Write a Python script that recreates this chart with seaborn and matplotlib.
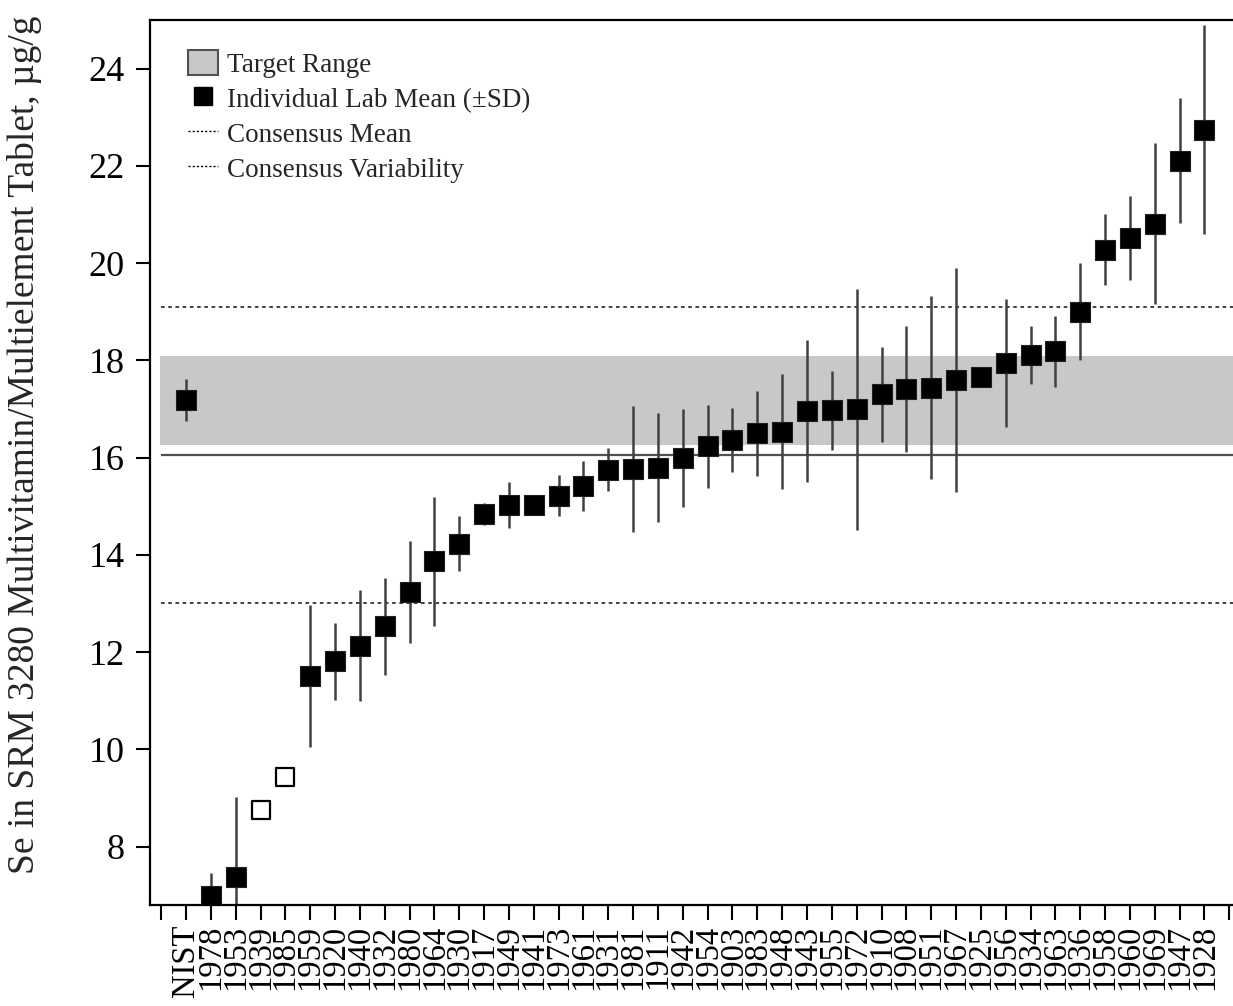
import numpy as np
import pandas as pd
import matplotlib
matplotlib.use("Agg")
import matplotlib.pyplot as plt
import seaborn as sns
from matplotlib.patches import Patch
from matplotlib.lines import Line2D

# ---------------- data ----------------
labs = ["NIST", "1978", "1953", "1939", "1985", "1959", "1920", "1940", "1932",
        "1980", "1964", "1930", "1917", "1949", "1941", "1973", "1961", "1931",
        "1981", "1911", "1942", "1954", "1903", "1983", "1948", "1943", "1955",
        "1972", "1910", "1908", "1951", "1967", "1925", "1956", "1934", "1963",
        "1936", "1958", "1960", "1969", "1947", "1928"]
means = [17.19, 6.98, 7.37, 8.75, 9.43, 11.51, 11.81, 12.13, 12.53,
         13.23, 13.87, 14.23, 14.84, 15.03, 15.03, 15.22, 15.42, 15.75,
         15.77, 15.79, 15.99, 16.23, 16.36, 16.50, 16.53, 16.95, 16.97,
         16.99, 17.30, 17.41, 17.44, 17.60, 17.65, 17.95, 18.11, 18.19,
         19.00, 20.28, 20.52, 20.81, 22.11, 22.74]
sds = [0.43, 0.48, 1.65, np.nan, np.nan, 1.46, 0.79, 1.14, 0.99,
       1.05, 1.33, 0.57, 0.23, 0.47, 0.15, 0.42, 0.52, 0.44,
       1.30, 1.12, 1.00, 0.85, 0.66, 0.87, 1.18, 1.46, 0.81,
       2.48, 0.98, 1.30, 1.88, 2.30, 0.10, 1.31, 0.60, 0.73,
       1.00, 0.73, 0.87, 1.66, 1.29, 2.15]
open_marker = [False, False, False, True, True] + [False] * 37

target_low, target_high = 16.25, 18.10
consensus_mean = 16.06
consensus_low, consensus_high = 13.02, 19.10

df = pd.DataFrame({"lab": labs, "mean": means, "sd": sds, "open": open_marker})
df["pos"] = np.arange(len(df))

# ---------------- style ----------------
sns.set_theme(style="ticks")
plt.rcParams["font.family"] = ["Liberation Serif", "DejaVu Serif"]
plt.rcParams["axes.linewidth"] = 1.6

fig = plt.figure(figsize=(12.33, 10.06), dpi=100)
ax = fig.add_axes([150 / 1233, 1 - 905 / 1006, 1083 / 1233, 885 / 1006])

# target band and consensus lines
ax.fill_between([-1.05, 42.3], target_low, target_high, color="#c8c8c8", lw=0, zorder=0)
ax.hlines(consensus_mean, -1.0, 42.3, color="#505050", lw=1.6, zorder=1)
ax.hlines([consensus_low, consensus_high], -1.0, 42.3, color="#333333", lw=1.3,
          linestyles=(0, (2, 2)), zorder=1)

# error bars
ax.errorbar(df["pos"], df["mean"], yerr=df["sd"], fmt="none", ecolor="#404040",
            elinewidth=1.8, capsize=0, zorder=2)

# markers
sns.scatterplot(data=df[~df["open"]], x="pos", y="mean", marker="s", s=190,
                color="black", edgecolor="#202020", linewidth=0.8, ax=ax,
                zorder=3, legend=False)
sns.scatterplot(data=df[df["open"]], x="pos", y="mean", marker="s", s=150,
                color="white", edgecolor="black", linewidth=1.6, ax=ax,
                zorder=3, legend=False)

# axes
ax.set_xlim(-1.45, 42.15)
ax.set_ylim(6.8, 25.0)
ax.set_xticks(np.arange(-1, 43))
ax.set_xticklabels([""] + labs + [""], rotation=90, fontsize=23.5)
ax.set_yticks(np.arange(8, 25, 2))
ax.set_yticklabels([str(v) for v in range(8, 25, 2)], fontsize=26)
ax.tick_params(axis="x", direction="out", length=11, width=1.5, pad=3, colors="black")
ax.tick_params(axis="y", direction="out", length=10, width=1.5, pad=8, colors="black")
ax.spines["right"].set_visible(False)
for s in ["left", "top", "bottom"]:
    ax.spines[s].set_color("black")
ax.set_xlabel("")
ax.set_ylabel("Se in SRM 3280 Multivitamin/Multielement Tablet, µg/g", fontsize=27)
ax.yaxis.set_label_coords(-0.0995, 0.52)

# legend
handles = [
    Patch(facecolor="#c8c8c8", edgecolor="#505050", lw=1.5),
    Line2D([], [], marker="s", color="black", ls="none", markersize=12.5),
    Line2D([], [], color="black", ls=(0, (1.5, 1.5)), lw=1.0),
    Line2D([], [], color="black", ls=(0, (1.5, 1.5)), lw=1.0),
]
labels = ["Target Range", "Individual Lab Mean (\u00b1SD)", "Consensus Mean",
          "Consensus Variability"]
ax.legend(handles, labels, loc="upper left", bbox_to_anchor=(0.035, 0.966),
          frameon=False, fontsize=19.5, handlelength=1.1, handleheight=1.05,
          handletextpad=0.35, labelspacing=0.27, borderaxespad=0, borderpad=0)

fig.savefig("out.png", dpi=100)
